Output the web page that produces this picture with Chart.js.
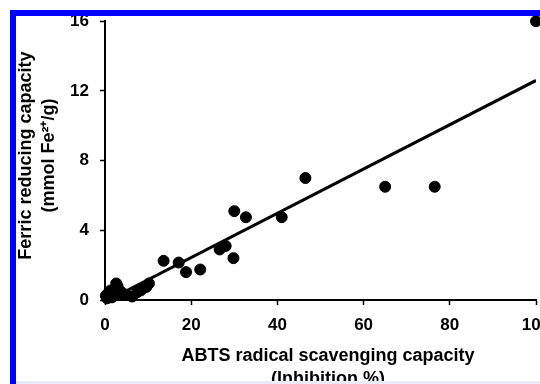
<!DOCTYPE html>
<html>
<head>
<meta charset="utf-8">
<script src="https://cdn.jsdelivr.net/npm/chart.js@4"></script>
<style>
  html, body { margin: 0; padding: 0; background: #fff; }
  #frame { position: relative; width: 540px; height: 384px; overflow: hidden; background: #fff; }
  #chart { position: absolute; left: 0; top: 0; }
  .bar { position: absolute; background: #0000ff; }
</style>
</head>
<body>
<div id="frame">
  <canvas id="chart" width="600" height="390" style="width:600px;height:390px"></canvas>
  <div class="bar" style="left:10px;top:10px;width:6px;height:374px"></div>
  <div class="bar" style="left:10px;top:10px;width:530px;height:6px"></div>
  <div style="position:absolute;left:16px;top:381px;width:524px;height:3px;background:#ececf6"></div>
</div>
<script>
// valores (ABTS % vs FRAP mmol Fe2+/g)
const abts = [0.2, 0.5, 0.8, 1.0, 1.3, 1.6, 1.9, 2.2, 2.6, 2.9, 3.1, 3.6, 4.2, 5.0, 6.3, 7.5, 8.3, 9.0, 9.6, 10.2,
  13.6, 17.1, 18.8, 22.1, 26.6, 28.0, 29.8, 30.0, 32.7, 41.0, 46.5, 65.0, 76.5, 100];
const ferric = [0.25, 0.1, 0.4, 0.2, 0.55, 0.15, 0.35, 0.6, 0.95, 0.8, 0.3, 0.5, 0.35, 0.3, 0.2, 0.45, 0.55, 0.7, 0.75, 0.95,
  2.25, 2.15, 1.6, 1.75, 2.9, 3.1, 2.4, 5.1, 4.75, 4.75, 7.0, 6.5, 6.5, 16];

// reta de regressao
const trendX = [0.8, 100];
const trendY = [0.0, 12.6];

const xTicks = [0, 20, 40, 60, 80, 100];
const yTicks = [0, 4, 8, 12, 16];

const pontos = abts.map(function (v, i) { return { x: v, y: ferric[i] }; });
const reta = trendX.map(function (v, i) { return { x: v, y: trendY[i] }; });

const fonteEixo = { family: 'Liberation Sans, Arial, sans-serif', size: 17, weight: 'bold' };
const fonteTitulo = { family: 'Liberation Sans, Arial, sans-serif', size: 18, weight: 'bold', lineHeight: 1.25 };

new Chart(document.getElementById('chart'), {
  type: 'scatter',
  data: {
    datasets: [{
      label: 'amostras',
      data: pontos,
      backgroundColor: '#000',
      borderColor: '#000',
      pointRadius: 5.5,
      pointHoverRadius: 5.5,
      clip: false
    }, {
      type: 'line',
      label: 'regressao',
      data: reta,
      borderColor: '#000',
      borderWidth: 3,
      pointRadius: 0,
      fill: false
    }]
  },
  options: {
    responsive: false,
    animation: false,
    devicePixelRatio: 1,
    layout: { padding: { left: 15, top: 19, right: 64, bottom: 0 } },
    plugins: {
      legend: { display: false },
      tooltip: { enabled: false }
    },
    scales: {
      x: {
        type: 'linear',
        min: 0,
        max: 100,
        afterBuildTicks: function (scale) { scale.ticks = xTicks.map(function (v) { return { value: v }; }); },
        afterFit: function (scale) { scale.height = 90; },
        grid: { drawOnChartArea: false, drawTicks: true, tickLength: 5, tickColor: '#000', tickWidth: 1.5 },
        border: { display: true, color: '#000', width: 2 },
        ticks: { color: '#000', font: fonteEixo, padding: 10, maxRotation: 0 },
        title: {
          display: true,
          // espacos iniciais empurram o titulo um pouco para a direita, como no original
          text: ['\u00a0\u00a0\u00a0ABTS radical scavenging capacity', '\u00a0\u00a0\u00a0(Inhibition %)'],
          color: '#000',
          font: fonteTitulo,
          padding: { top: 0, bottom: 0 }
        }
      },
      y: {
        type: 'linear',
        min: 0,
        max: 16,
        afterBuildTicks: function (scale) { scale.ticks = yTicks.map(function (v) { return { value: v }; }); },
        afterFit: function (scale) { scale.width = 90; },
        grid: { drawOnChartArea: false, drawTicks: true, tickLength: 5, tickColor: '#000', tickWidth: 1.5 },
        border: { display: true, color: '#000', width: 2 },
        ticks: { color: '#000', font: fonteEixo, padding: 11 },
        title: {
          display: true,
          text: ['\u00a0\u00a0Ferric reducing capacity', '\u00a0\u00a0(mmol Fe²⁺/g)'],
          color: '#000',
          font: fonteTitulo,
          padding: { top: 0, bottom: 0 }
        }
      }
    }
  }
});
</script>
</body>
</html>
